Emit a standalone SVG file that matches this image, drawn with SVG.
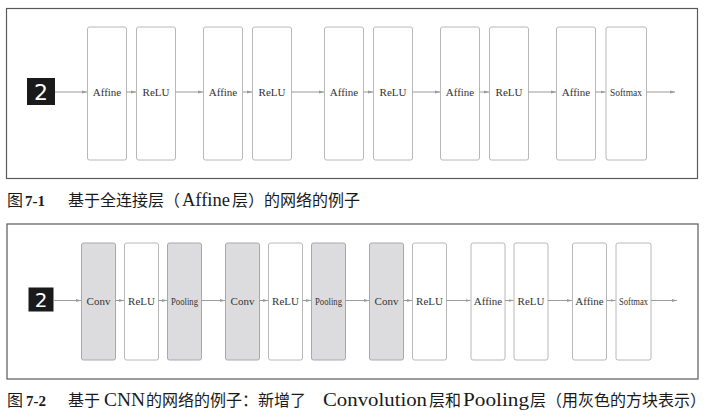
<svg xmlns="http://www.w3.org/2000/svg" width="706" height="419" viewBox="0 0 706 419">
<defs>
<style>
.frame{fill:#fff;stroke:#5a5a5a;stroke-width:1.2}
.box{fill:#fff;stroke:#b8b8b8;stroke-width:1}
.gbox{fill:#dcdcde;stroke:#a8a8a8;stroke-width:1}
.lbl{font-family:"Liberation Serif",serif;font-size:11px;fill:#333;text-anchor:middle}
.edge{stroke:#9a9a9a;stroke-width:1;fill:none;marker-end:url(#ah)}
.digit{fill:#1a1a1a}
.dtxt{font-family:"DejaVu Sans",sans-serif;font-size:22px;fill:#fff;text-anchor:middle}
.cap{font-family:"Noto Sans CJK SC",sans-serif;font-size:16px;fill:#1a1a1a}
.capl{font-family:"Liberation Serif","Noto Sans CJK SC",serif;font-size:19px;fill:#1a1a1a}
.capn{font-family:"Liberation Serif",serif;font-size:15px;font-weight:bold;fill:#1a1a1a}
</style>
<marker id="ah" markerWidth="6" markerHeight="4" refX="5" refY="2" orient="auto" markerUnits="userSpaceOnUse">
<path d="M0,0.5 L5,2 L0,3.5 Z" fill="#9a9a9a"/>
</marker>
</defs>
<rect width="706" height="419" fill="#fff"/>

<g id="figure1">
<rect class="frame" x="6.5" y="8.5" width="691" height="170"/>
<g id="f1-input"><rect class="digit" x="27" y="78" width="28" height="27"/><text class="dtxt" x="41" y="100">2</text></g>
<g id="f1-affine1"><rect class="box" x="87.5" y="27" width="39" height="133" rx="2"/><text class="lbl" x="107" y="96">Affine</text></g>
<g id="f1-relu1"><rect class="box" x="136.5" y="27" width="39" height="133" rx="2"/><text class="lbl" x="156" y="96">ReLU</text></g>
<g id="f1-affine2"><rect class="box" x="203.5" y="27" width="39" height="133" rx="2"/><text class="lbl" x="223" y="96">Affine</text></g>
<g id="f1-relu2"><rect class="box" x="252.5" y="27" width="39" height="133" rx="2"/><text class="lbl" x="272" y="96">ReLU</text></g>
<g id="f1-affine3"><rect class="box" x="324.5" y="27" width="39" height="133" rx="2"/><text class="lbl" x="344" y="96">Affine</text></g>
<g id="f1-relu3"><rect class="box" x="373.5" y="27" width="39" height="133" rx="2"/><text class="lbl" x="393" y="96">ReLU</text></g>
<g id="f1-affine4"><rect class="box" x="440.5" y="27" width="39" height="133" rx="2"/><text class="lbl" x="460" y="96">Affine</text></g>
<g id="f1-relu4"><rect class="box" x="489.5" y="27" width="39" height="133" rx="2"/><text class="lbl" x="509" y="96">ReLU</text></g>
<g id="f1-affine5"><rect class="box" x="556.5" y="27" width="39" height="133" rx="2"/><text class="lbl" x="576" y="96">Affine</text></g>
<g id="f1-softmax"><rect class="box" x="606" y="27" width="40.5" height="133" rx="2"/><text class="lbl" x="626" y="96" textLength="32" lengthAdjust="spacingAndGlyphs">Softmax</text></g>
<g id="f1-connectors">
<line class="edge" x1="55" y1="92" x2="87" y2="92"/>
<line class="edge" x1="126.5" y1="92" x2="136" y2="92"/>
<line class="edge" x1="175.5" y1="92" x2="203" y2="92"/>
<line class="edge" x1="242.5" y1="92" x2="252" y2="92"/>
<line class="edge" x1="291.5" y1="92" x2="324" y2="92"/>
<line class="edge" x1="363.5" y1="92" x2="373" y2="92"/>
<line class="edge" x1="412.5" y1="92" x2="440" y2="92"/>
<line class="edge" x1="479.5" y1="92" x2="489" y2="92"/>
<line class="edge" x1="528.5" y1="92" x2="556" y2="92"/>
<line class="edge" x1="595.5" y1="92" x2="605.5" y2="92"/>
<line class="edge" x1="646.5" y1="92" x2="675" y2="92"/>
</g>
<text y="206"><tspan class="cap" x="7">图</tspan><tspan class="capn" x="25">7-1</tspan><tspan class="cap" x="68">基于全连接层（</tspan><tspan class="capl" x="182" textLength="48" lengthAdjust="spacingAndGlyphs">Affine</tspan><tspan class="cap" x="232">层）的网络的例子</tspan></text>
</g>

<g id="figure2">
<rect class="frame" x="7" y="224" width="691" height="155"/>
<g id="f2-input"><rect class="digit" x="28.5" y="287.5" width="25" height="24"/><text class="dtxt" x="41" y="307" style="font-size:20px">2</text></g>
<g id="f2-conv1"><rect class="gbox" x="81.5" y="243" width="34" height="117" rx="2"/><text class="lbl" x="98.5" y="304.5">Conv</text></g>
<g id="f2-relu1"><rect class="box" x="124.5" y="243" width="34" height="117" rx="2"/><text class="lbl" x="141.5" y="304.5">ReLU</text></g>
<g id="f2-pool1"><rect class="gbox" x="167.5" y="243" width="34" height="117" rx="2"/><text class="lbl" x="184.5" y="304.5" textLength="27" lengthAdjust="spacingAndGlyphs">Pooling</text></g>
<g id="f2-conv2"><rect class="gbox" x="225.5" y="243" width="34" height="117" rx="2"/><text class="lbl" x="242.5" y="304.5">Conv</text></g>
<g id="f2-relu2"><rect class="box" x="268.5" y="243" width="34" height="117" rx="2"/><text class="lbl" x="285.5" y="304.5">ReLU</text></g>
<g id="f2-pool2"><rect class="gbox" x="311.5" y="243" width="34" height="117" rx="2"/><text class="lbl" x="328.5" y="304.5" textLength="27" lengthAdjust="spacingAndGlyphs">Pooling</text></g>
<g id="f2-conv3"><rect class="gbox" x="369.5" y="243" width="34" height="117" rx="2"/><text class="lbl" x="386.5" y="304.5">Conv</text></g>
<g id="f2-relu3"><rect class="box" x="412.5" y="243" width="34" height="117" rx="2"/><text class="lbl" x="429.5" y="304.5">ReLU</text></g>
<g id="f2-affine1"><rect class="box" x="471" y="243" width="34" height="117" rx="2"/><text class="lbl" x="488" y="304.5">Affine</text></g>
<g id="f2-relu4"><rect class="box" x="514" y="243" width="34" height="117" rx="2"/><text class="lbl" x="531" y="304.5">ReLU</text></g>
<g id="f2-affine2"><rect class="box" x="572.5" y="243" width="34" height="117" rx="2"/><text class="lbl" x="589.5" y="304.5">Affine</text></g>
<g id="f2-softmax"><rect class="box" x="616" y="243" width="35" height="117" rx="2"/><text class="lbl" x="633.5" y="304.5" textLength="29" lengthAdjust="spacingAndGlyphs">Softmax</text></g>
<g id="f2-connectors">
<line class="edge" x1="53.5" y1="300.5" x2="81" y2="300.5"/>
<line class="edge" x1="115.5" y1="300.5" x2="124" y2="300.5"/>
<line class="edge" x1="158.5" y1="300.5" x2="167" y2="300.5"/>
<line class="edge" x1="201.5" y1="300.5" x2="225" y2="300.5"/>
<line class="edge" x1="259.5" y1="300.5" x2="268" y2="300.5"/>
<line class="edge" x1="302.5" y1="300.5" x2="311" y2="300.5"/>
<line class="edge" x1="345.5" y1="300.5" x2="369" y2="300.5"/>
<line class="edge" x1="403.5" y1="300.5" x2="412" y2="300.5"/>
<line class="edge" x1="446.5" y1="300.5" x2="470.5" y2="300.5"/>
<line class="edge" x1="505" y1="300.5" x2="513.5" y2="300.5"/>
<line class="edge" x1="548" y1="300.5" x2="572" y2="300.5"/>
<line class="edge" x1="606.5" y1="300.5" x2="615.5" y2="300.5"/>
<line class="edge" x1="651" y1="300.5" x2="677" y2="300.5"/>
</g>
<text y="406"><tspan class="cap" x="7">图</tspan><tspan class="capn" x="26">7-2</tspan><tspan class="cap" x="68">基于</tspan><tspan class="capl" x="104" textLength="41" lengthAdjust="spacingAndGlyphs">CNN</tspan><tspan class="cap" x="146">的网络的例子：新增了</tspan><tspan class="capl" x="323" textLength="104" lengthAdjust="spacingAndGlyphs">Convolution</tspan><tspan class="cap" x="429">层和</tspan><tspan class="capl" x="463" textLength="66" lengthAdjust="spacingAndGlyphs">Pooling</tspan><tspan class="cap" x="530">层（用灰色的方块表示）</tspan></text>
</g>
</svg>
